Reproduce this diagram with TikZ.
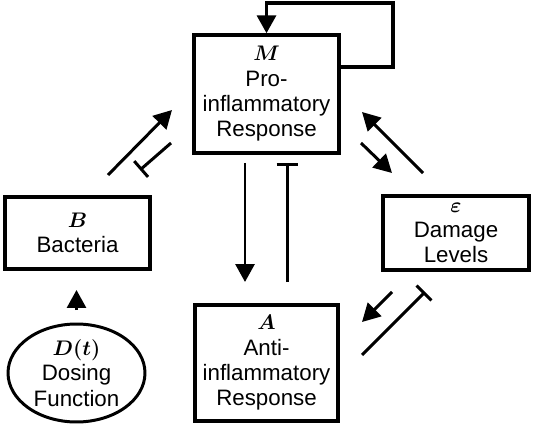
\documentclass[tikz,border=0pt]{standalone}
\usepackage{amsmath}
\usepackage{fontspec}
\setmainfont{Liberation Sans}
\usetikzlibrary{arrows.meta,shapes.geometric}

\tikzset{
    box/.style={draw, line width=2pt, align=center, inner sep=0pt,
        font=\fontsize{12.7}{14.4}\selectfont},
    act/.style={line width=1.7pt, -{Triangle[length=0.36cm, width=0.38cm]}},
    inhib/.style={line width=1.7pt, -{Bar[width=0.42cm, line width=1.7pt]}}
}

\begin{document}
\begin{tikzpicture}[x=0.02cm, y=-0.02cm]
    \useasboundingbox (0,0) rectangle (533,425);

    \node[box, minimum width=2.9cm, minimum height=2.36cm] (M) at (266.5,94)
        {$\boldsymbol{M}$\\Pro-\\inflammatory\\Response};
    \node[box, minimum width=2.9cm, minimum height=1.44cm] (B) at (77.5,233)
        {$\boldsymbol{B}$\\Bacteria};
    \node[box, minimum width=2.92cm, minimum height=1.48cm] (E) at (456,233)
        {$\boldsymbol{\varepsilon}$\\Damage\\Levels};
    \node[box, minimum width=2.86cm, minimum height=2.32cm] (A) at (266.5,363)
        {$\boldsymbol{A}$\\Anti-\\inflammatory\\Response};
    \node[box, ellipse, line width=1.7pt, minimum width=2.74cm, minimum height=1.96cm] (D) at (76.5,373)
        {$\boldsymbol{D(t)}$\\Dosing\\Function};

    % end points of the arrows
    \coordinate (loopin) at (341,67);
    \coordinate (loopr) at (393,67);
    \coordinate (loopt) at (266.5,3);
    \coordinate (ma1) at (245,163);   \coordinate (ma2) at (245,282);
    \coordinate (am1) at (287,282);   \coordinate (am2) at (287,163);
    \coordinate (bm1) at (108,175);   \coordinate (bm2) at (172,110);
    \coordinate (mb1) at (171,143);   \coordinate (mb2) at (140,170);
    \coordinate (em1) at (423,173);   \coordinate (em2) at (362,112);
    \coordinate (me1) at (361,143);   \coordinate (me2) at (392,173);
    \coordinate (ea1) at (392,292);   \coordinate (ea2) at (362,322);
    \coordinate (ae1) at (362,355);   \coordinate (ae2) at (425,292);
    \coordinate (db1) at (76.5,310);  \coordinate (db2) at (76.5,290);

    \draw[act, line width=2pt] (loopin) -- (loopr) |- (loopt) -- (M.north);

    \draw[act] (ma1) -- (ma2);
    \draw[inhib] (am1) -- (am2);
    \draw[act] (bm1) -- (bm2);
    \draw[inhib] (mb1) -- (mb2);
    \draw[act] (em1) -- (em2);
    \draw[act] (me1) -- (me2);
    \draw[act] (ea1) -- (ea2);
    \draw[inhib] (ae1) -- (ae2);
    \draw[act] (db1) -- (db2);

\end{tikzpicture}
\end{document}
